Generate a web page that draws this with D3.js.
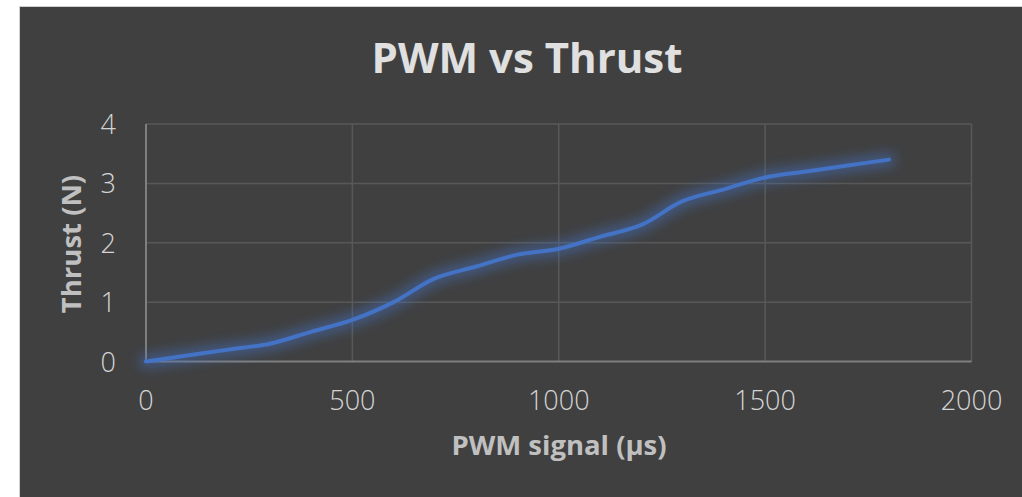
<!DOCTYPE html>
<html>
<head>
<meta charset="utf-8">
<script src="https://cdn.jsdelivr.net/npm/d3@7/dist/d3.min.js"></script>
<style>
  html, body { margin: 0; padding: 0; background: #ffffff; }
  svg { display: block; }
</style>
</head>
<body>
<svg id="chart" width="1022" height="497"></svg>
<script>
// PWM pulse width (µs) and measured thrust (N)
const pwm    = [0, 100, 200, 300, 400, 500, 600, 700, 800, 900, 1000, 1100, 1200, 1300, 1400, 1500, 1600, 1700, 1800];
const thrust = [0, 0.1, 0.2, 0.3, 0.5, 0.7, 1.0, 1.4, 1.6, 1.8, 1.9, 2.1, 2.3, 2.7, 2.9, 3.1, 3.2, 3.3, 3.4];

const xTicks = [0, 500, 1000, 1500, 2000];
const yTicks = [0, 1, 2, 3, 4];

const title  = "PWM vs Thrust";
const xTitle = "PWM signal (\u03bcs)";
const yTitle = "Thrust (N)";

const W = 1022, H = 497;
const plot = { left: 146, right: 971.5, top: 124, bottom: 361.5 };
const font = "'Open Sans', 'Noto Sans', sans-serif";

const svg = d3.select("#chart");

// chart frame
svg.append("rect")
  .attr("x", 19.5).attr("y", 6.5)
  .attr("width", W - 19).attr("height", H - 6)
  .attr("fill", "#404040")
  .attr("stroke", "#d0d0d0").attr("stroke-width", 1);

const x = d3.scaleLinear().domain([0, 2000]).range([plot.left, plot.right]);
const y = d3.scaleLinear().domain([0, 4]).range([plot.bottom, plot.top]);

// gridlines
const grid = svg.append("g");
grid.selectAll("line.h").data(yTicks.slice(1)).join("line")
  .attr("x1", plot.left).attr("x2", plot.right)
  .attr("y1", d => y(d)).attr("y2", d => y(d))
  .attr("stroke", "#585858").attr("stroke-width", 1.5);
grid.selectAll("line.v").data(xTicks.slice(1)).join("line")
  .attr("y1", plot.top).attr("y2", plot.bottom)
  .attr("x1", d => x(d)).attr("x2", d => x(d))
  .attr("stroke", "#585858").attr("stroke-width", 1.5);

// axis lines
svg.append("line")
  .attr("x1", plot.left).attr("x2", plot.left)
  .attr("y1", plot.top).attr("y2", plot.bottom)
  .attr("stroke", "#7f7f7f").attr("stroke-width", 2);
svg.append("line")
  .attr("x1", plot.left - 1).attr("x2", plot.right)
  .attr("y1", plot.bottom).attr("y2", plot.bottom)
  .attr("stroke", "#7f7f7f").attr("stroke-width", 2);

// tick labels
svg.append("g").selectAll("text").data(xTicks).join("text")
  .attr("x", d => x(d)).attr("y", 410)
  .attr("text-anchor", "middle")
  .attr("font-family", font).attr("font-size", 27).attr("font-weight", 300)
  .attr("fill", "#d4d4d4")
  .text(d => d);
svg.append("g").selectAll("text").data(yTicks).join("text")
  .attr("x", 116).attr("y", d => y(d) + 10)
  .attr("text-anchor", "end")
  .attr("font-family", font).attr("font-size", 27).attr("font-weight", 300)
  .attr("fill", "#d4d4d4")
  .text(d => d);

// titles
svg.append("text")
  .attr("x", 527).attr("y", 73)
  .attr("text-anchor", "middle")
  .attr("font-family", font).attr("font-weight", 700).attr("font-size", 42)
  .attr("fill", "#e0e0e0")
  .text(title);
svg.append("text")
  .attr("x", 559).attr("y", 455)
  .attr("text-anchor", "middle")
  .attr("font-family", font).attr("font-weight", 700).attr("font-size", 27.5)
  .attr("fill", "#c0c0c0")
  .text(xTitle);
svg.append("text")
  .attr("transform", "translate(81,244) rotate(-90)")
  .attr("text-anchor", "middle")
  .attr("font-family", font).attr("font-weight", 700).attr("font-size", 27.5)
  .attr("fill", "#c0c0c0")
  .text(yTitle);

// soft glow around the series line
const defs = svg.append("defs");
defs.append("filter").attr("id", "glow")
  .attr("x", "-10%").attr("y", "-40%").attr("width", "120%").attr("height", "180%")
  .append("feGaussianBlur").attr("stdDeviation", 6);

const line = d3.line()
  .x((d, i) => x(pwm[i]))
  .y(d => y(d))
  .curve(d3.curveCatmullRom.alpha(0.5));

svg.append("path")
  .attr("d", line(thrust))
  .attr("fill", "none")
  .attr("stroke", "#4472c4").attr("stroke-opacity", 0.5)
  .attr("stroke-width", 14)
  .attr("stroke-linecap", "round")
  .attr("filter", "url(#glow)");

svg.append("path")
  .attr("d", line(thrust))
  .attr("fill", "none")
  .attr("stroke", "#4472c4")
  .attr("stroke-width", 4)
  .attr("stroke-linecap", "round")
  .attr("stroke-linejoin", "round");
</script>
</body>
</html>
